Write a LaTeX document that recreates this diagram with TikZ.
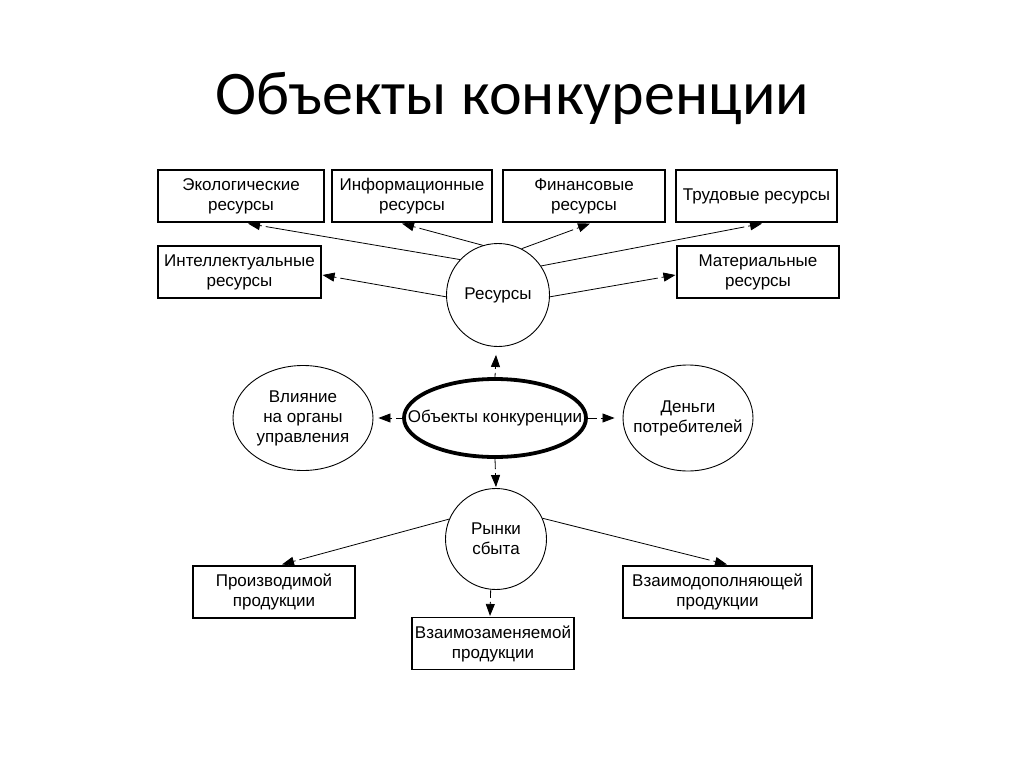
\documentclass[tikz,border=0pt]{standalone}
\usepackage{fontspec}
\setmainfont{Liberation Sans}
\newfontfamily\titlefont{Carlito}
\usetikzlibrary{arrows.meta,shapes.geometric,calc}
\newcommand\garr[2]{%
  \draw[ln] (#1) -- ($(#2)!18pt!(#1)$);
  \draw[hd] ($(#2)!14pt!(#1)$) -- (#2);}
\begin{document}
\begin{tikzpicture}[x=1pt,y=-1pt,
  every node/.style={font=\fontsize{17}{20}\selectfont, align=center, inner sep=0pt},
  rbox/.style={draw, line width=1.1pt, minimum width=#1, minimum height=52pt},
  rbox/.default=162pt,
  oval/.style={draw, ellipse, line width=0.9pt},
  ln/.style={line width=0.8pt},
  hd/.style={line width=0.8pt, -{Triangle[length=12pt,width=9pt]}}]
\useasboundingbox (0,0) rectangle (1024,767);
\fill[white] (0,0) rectangle (1024,767);
\node[font=\titlefont\fontsize{62}{70}\selectfont, anchor=base] (title) at (512,115) {Объекты конкуренции};
% boxes
\node[rbox=166pt] (eco) at (241,196) {Экологические\\ресурсы};
\node[rbox=160pt] (info) at (412,196) {Информационные\\ресурсы};
\node[rbox=162pt] (fin) at (584,196) {Финансовые\\ресурсы};
\node[rbox=161pt] (trud) at (756.5,196) {Трудовые ресурсы};
\node[rbox=163pt] (intel) at (239.5,272) {Интеллектуальные\\ресурсы};
\node[rbox=162pt] (mat) at (758,272) {Материальные\\ресурсы};
\node[rbox=162pt] (proizv) at (274,592) {Производимой\\продукции};
\node[rbox=189pt] (dop) at (717.5,592) {Взаимодополняющей\\продукции};
\node[rbox=162pt] (zam) at (493,643.5) {Взаимозаменяемой\\продукции};
% ovals (outline nodes) and their texts
\node[oval, circle, minimum size=103pt] (res) at (498,295) {};
\node (resT) at (res) {Ресурсы};
\node[oval, line width=3.8pt, minimum width=182pt, minimum height=78pt] (obj) at (495,418) {};
\node (objT) at (obj) {Объекты конкуренции};
\node[oval, minimum width=140pt, minimum height=105pt] (vl) at (303,418) {};
\node (vlT) at (vl) {Влияние\\на органы\\управления};
\node[oval, minimum width=130pt, minimum height=106pt] (den) at (688,418) {};
\node (denT) at (den) {Деньги\\потребителей};
\node[oval, circle, minimum size=101pt] (ryn) at (496,539) {};
\node (rynT) at (ryn) {Рынки\\сбыта};
% arrow tips
\coordinate (tEco) at ($(eco.south)+(7,1)$);
\coordinate (tInfo) at ($(info.south)+(-10,1)$);
\coordinate (tFin) at ($(fin.south)+(6,1)$);
\coordinate (tTrud) at ($(trud.south)+(5.5,1)$);
\coordinate (tIntel) at ($(intel.east)+(1,3)$);
\coordinate (tMat) at ($(mat.west)+(-1,3)$);
\coordinate (tRes) at ($(res.south)+(-2,8)$);
\coordinate (tVl) at ($(vl.east)+(5,0)$);
\coordinate (tDen) at ($(den.west)+(-8,0)$);
\coordinate (tRyn) at ($(ryn.north)+(0,-1)$);
\coordinate (tProizv) at ($(proizv.north)+(8,-1)$);
\coordinate (tDop) at ($(dop.north)+(9.5,-1)$);
\coordinate (tZam) at ($(zam.north)+(-3,-1)$);
% arrows from Ресурсы
\garr{res.137}{tEco}
\garr{res.107}{tInfo}
\garr{res.63}{tFin}
\garr{res.34}{tTrud}
\garr{res.182}{tIntel}
\garr{res.-2}{tMat}
% arrows from центр
\garr{obj.north}{tRes}
\garr{obj.west}{tVl}
\garr{obj.east}{tDen}
\garr{obj.south}{tRyn}
% arrows from Рынки сбыта
\garr{ryn.157}{tProizv}
\garr{ryn.24}{tDop}
\garr{ryn.264}{tZam}
\end{tikzpicture}
\end{document}
